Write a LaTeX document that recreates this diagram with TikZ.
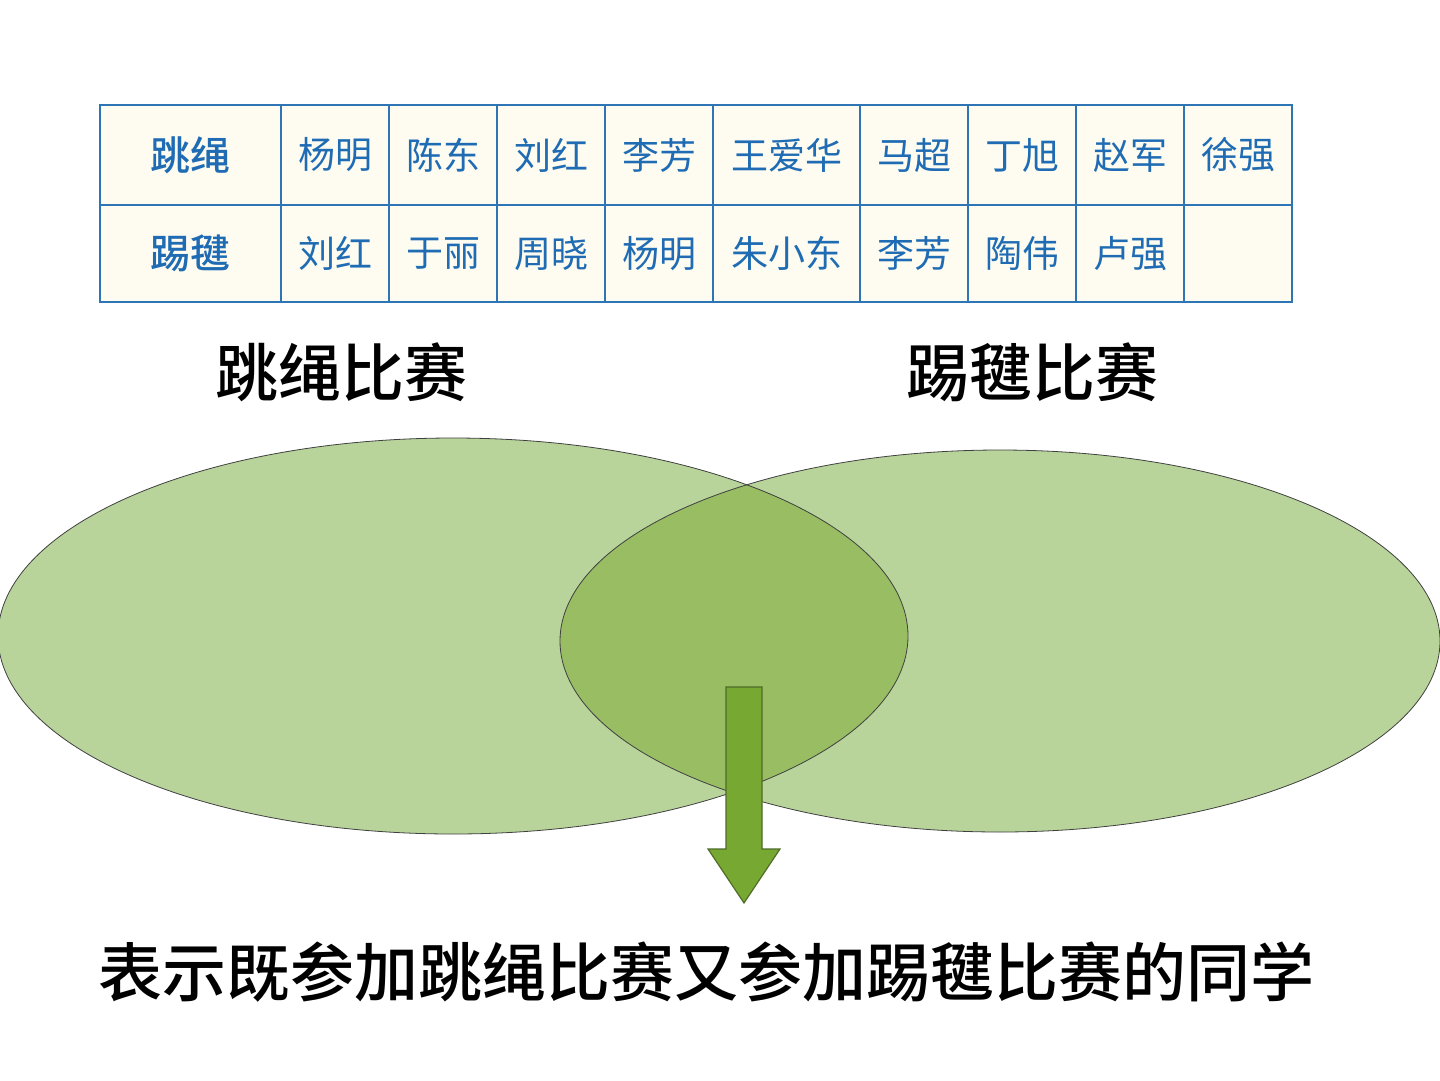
\documentclass[tikz,border=0pt]{standalone}
\usepackage{fontspec}
\setmainfont{Noto Sans CJK SC}[BoldFont={Noto Sans CJK SC Medium}]
\definecolor{tblblue}{HTML}{2E75B6}
\definecolor{nameblue}{HTML}{1F6CB4}
\definecolor{cellbg}{HTML}{FEFCF0}
\definecolor{setgreen}{HTML}{B8D49A}
\definecolor{bothgreen}{HTML}{99BD63}
\definecolor{arrowgreen}{HTML}{77A832}
\definecolor{arrowedge}{HTML}{4F6B28}
\tikzset{
  cell/.style={draw=tblblue, line width=1.5pt, fill=cellbg, inner sep=0pt,
    text=nameblue, font=\fontsize{37}{42}\selectfont},
  biglabel/.style={font=\fontsize{63}{70}\selectfont\bfseries},
  setline/.style={draw=black!75, line width=0.8pt}
}
\begin{document}
\begin{tikzpicture}[x=1pt, y=-1pt]
\useasboundingbox (0,0) rectangle (1440,1080);
% ellipses
\fill[setgreen] (453,636) ellipse [x radius=455, y radius=198];
\fill[setgreen] (1000,641) ellipse [x radius=440, y radius=191];
\begin{scope}
\clip (453,636) ellipse [x radius=455, y radius=198];
\fill[bothgreen] (1000,641) ellipse [x radius=440, y radius=191];
\end{scope}
\draw[setline] (453,636) ellipse [x radius=455, y radius=198];
\draw[setline] (1000,641) ellipse [x radius=440, y radius=191];
% table
\foreach \cx/\w/\a/\b [count=\i] in {190.5/181/{\bfseries\fontsize{40}{44}\selectfont 跳绳}/{\bfseries\fontsize{40}{44}\selectfont 踢毽},
  335/108/杨明/刘红, 443/108/陈东/于丽, 551/108/刘红/周晓, 659/108/李芳/杨明,
  786.5/147/王爱华/朱小东, 914/108/马超/李芳, 1022/108/丁旭/陶伟,
  1130/108/赵军/卢强, 1238/108/徐强/{}}
{
\node[cell, minimum width=\w pt, minimum height=100pt] (jump\i) at (\cx,155) {\a};
\node[cell, minimum width=\w pt, minimum height=97pt] (kick\i) at (\cx,253.5) {\b};
}
% labels
\node[biglabel] (jumptitle) at (341,372) {跳绳比赛};
\node[biglabel] (kicktitle) at (1032,372) {踢毽比赛};
\node[biglabel, font=\fontsize{64}{70}\selectfont\bfseries] (bothtext) at (706,972)
  {表示既参加跳绳比赛又参加踢毽比赛的同学};
% arrow
\draw[fill=arrowgreen, draw=arrowedge, line width=1.2pt]
  (726,687) -- (762,687) -- (762,849) -- (780,849) -- (744,903)
  -- (708,849) -- (726,849) -- cycle;
\end{tikzpicture}
\end{document}
